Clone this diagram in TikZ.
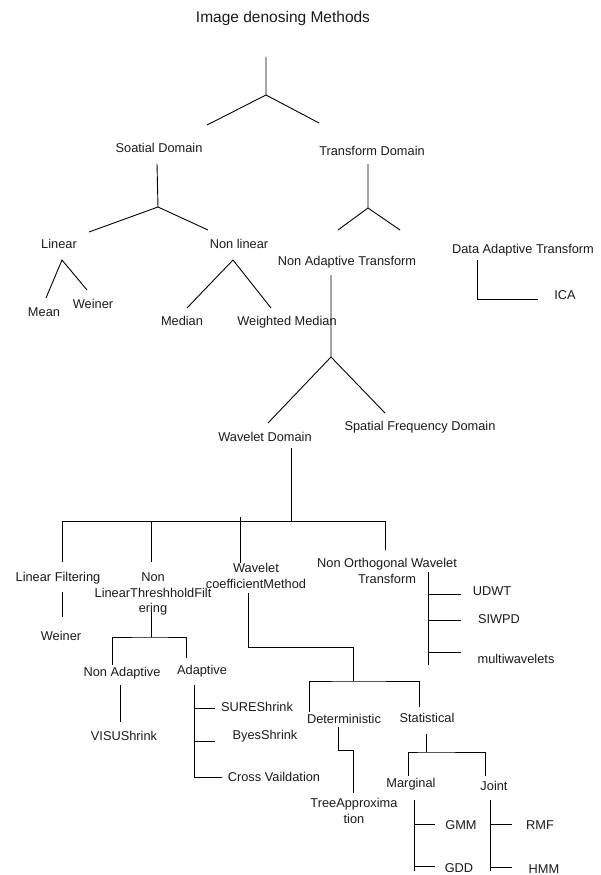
\documentclass[tikz,border=0pt]{standalone}
\usepackage{fontspec}
\setmainfont{Liberation Sans}
\usepackage{tikz}
\newcommand{\labfont}{\fontsize{12.8}{15.5}\selectfont}
\newcommand{\ttlfont}{\fontsize{15.5}{18}\selectfont}
\definecolor{txtgray}{HTML}{1A1A1A}
\tikzstyle{lbl} = [text=txtgray, font=\labfont, inner sep=1pt, align=center]
\tikzstyle{ttl} = [text=txtgray, font=\ttlfont, inner sep=1pt]
\tikzstyle{ln} = [draw=black, line width=0.9pt]
\begin{document}
\begin{tikzpicture}[x=1pt, y=-1pt]
                \useasboundingbox (0,0) rectangle (601,875);
                \node[ttl] (title) at (283,18) {Image denosing Methods};
                \node[lbl] (spat) at (159,148) {Soatial Domain};
                \node[lbl] (trans) at (372,151) {Transform Domain};
                \node[lbl] (lin) at (59,244) {Linear};
                \node[lbl] (nlin) at (239,244) {Non linear};
                \node[lbl] (nat) at (347,262) {Non Adaptive Transform};
                \node[lbl] (dat) at (523,250) {Data Adaptive Transform};
                \node[lbl] (mean) at (44,312) {Mean};
                \node[lbl] (wei) at (93,304) {Weiner};
                \node[lbl] (med) at (182,321) {Median};
                \node[lbl] (wmed) at (287,322) {Weighted Median};
                \node[lbl] (ica) at (565,295) {ICA};
                \node[lbl] (wd) at (265,437) {Wavelet Domain};
                \node[lbl] (sfd) at (420,427) {Spatial Frequency Domain};
                \node[lbl] (lf) at (58,578) {Linear Filtering};
                \node[lbl] (nltf) at (153,594) {Non\\LinearThreshholdFilt\\ering};
                \node[lbl] (wcm) at (256,576) {Wavelet\\coefficientMethod};
                \node[lbl] (nowt) at (387,571) {Non Orthogonal Wavelet\\Transform};
                \node[lbl] (wei2) at (61,636) {Weiner};
                \node[lbl] (udwt) at (492,591) {UDWT};
                \node[lbl] (siwpd) at (499,619) {SIWPD};
                \node[lbl] (mw) at (516,659) {multiwavelets};
                \node[lbl] (nad) at (122,673) {Non Adaptive};
                \node[lbl] (ad) at (202,671) {Adaptive};
                \node[lbl] (visu) at (124,736) {VISUShrink};
                \node[lbl] (sure) at (257,707) {SUREShrink};
                \node[lbl] (byes) at (265,736) {ByesShrink};
                \node[lbl] (cv) at (274,777) {Cross Vaildation};
                \node[lbl] (det) at (344,719) {Deterministic};
                \node[lbl] (stat) at (427,718) {Statistical};
                \node[lbl] (tree) at (354,811) {TreeApproxima\\tion};
                \node[lbl] (marg) at (411,784) {Marginal};
                \node[lbl] (joint) at (494,786) {Joint};
                \node[lbl] (gmm) at (461,825) {GMM};
                \node[lbl] (gdd) at (459,868) {GDD};
                \node[lbl] (rmf) at (540,825) {RMF};
                \node[lbl] (hmm) at (544,869) {HMM};
                \coordinate (ftop) at (266,95);
                \coordinate (fspat) at (158,207);
                \coordinate (ftrans) at (368,208);
                \coordinate (flin) at (62,260);
                \coordinate (fnlin) at (233,260);
                \coordinate (fdat) at (477,299);
                \coordinate (fnat) at (331,357);
                \coordinate (fwd) at (291,521);
                \coordinate (fnltf) at (151,637);
                \coordinate (fad) at (194,685);
                \coordinate (fwcm) at (353,681);
                \coordinate (fnowt) at (428,572);
                \coordinate (fdet) at (353,750);
                \coordinate (fstat) at (426,752);
                \coordinate (fmarg) at (414,800);
                \coordinate (fjoint) at (490,800);
                \draw[ln] (ftop) ++(0,-38) -- (ftop) -- +(-59,30) (ftop) -- +(53,28);
                \draw[ln] (fspat) ++(-1,-43) -- (fspat) -- +(-69,25) (fspat) -- +(50,23);
                \draw[ln] (ftrans) ++(0,-44) -- (ftrans) -- +(-30,22) (ftrans) -- +(32,22);
                \draw[ln] (flin) ++(-16,38) -- (flin) -- +(25,30);
                \draw[ln] (fnlin) ++(-46,48) -- (fnlin) -- +(38,48);
                \draw[ln] (fdat) ++(0,-39) -- (fdat) -- +(61,0);
                \draw[ln] (fnat) ++(0,-82) -- (fnat) -- +(-63,66) (fnat) -- +(54,56);
                \draw[ln] (fwd) ++(0,-73) -- (fwd);
                \draw[ln] (62,562) -- (62,521) -| (385,550);
                \draw[ln] (151,521) -- (151,562);
                \draw[ln] (240,517) -- (240,563);
                \draw[ln] (62,592) -- (62,617);
                \draw[ln] (fnltf) ++(0,-25) -- (fnltf);
                \draw[ln] (112,665) |- (fnltf) -| (186,658);
                \draw[ln] (120,685) -- (120,722);
                \draw[ln] (fad) -- (194,777) -- (222,777);
                \draw[ln] (194,708) -- (215,708) (194,741) -- (215,741);
                \draw[ln] (248,593) |- (353,647) -- (fwcm);
                \draw[ln] (309,712) |- (fwcm) -| (419,707);
                \draw[ln] (fnowt) -- (428,665);
                \draw[ln] (428,594) -- (461,594) (428,620) -- (461,620) (428,652) -- (461,652);
                \draw[ln] (338,727) |- (fdet) -- (353,793);
                \draw[ln] (fstat) ++(0,-18) -- (fstat);
                \draw[ln] (408,776) |- (fstat) -| (485,776);
                \draw[ln] (fmarg) -- (414,871);
                \draw[ln] (414,824) -- (435,824) (414,866) -- (435,866);
                \draw[ln] (fjoint) -- (490,871);
                \draw[ln] (490,824) -- (512,824) (490,867) -- (512,867);
            \end{tikzpicture}
\end{document}
